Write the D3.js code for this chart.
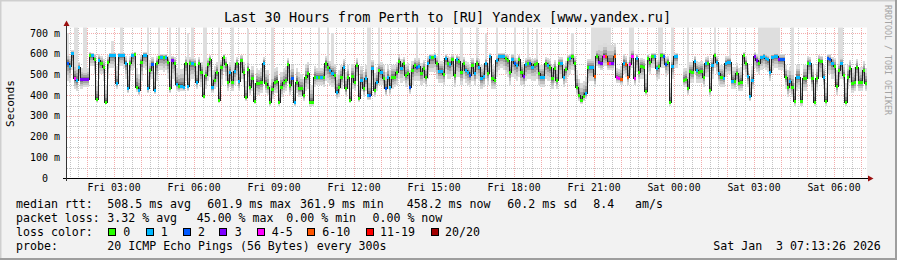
<!DOCTYPE html>
<html><head><meta charset="utf-8">
<script src="https://cdn.jsdelivr.net/npm/d3@7"></script>
<style>
html,body{margin:0;padding:0;background:#f2f2f2;overflow:hidden;}
svg{display:block;}
text{font-family:"DejaVu Sans Mono",monospace;white-space:pre;fill:#000;}
</style></head><body>
<svg id="chart" width="897" height="260"></svg>
<script>
// ---------------- data ----------------
const medianRtt = [
557,541,602,484,473,537,476,476,476,476,
594,594,573,381,570,557,537,368,562,594,
594,594,457,594,594,594,557,433,554,594,
599,441,425,559,596,596,433,521,550,425,
554,583,586,583,586,562,433,568,554,454,
444,446,441,554,444,557,554,549,465,554,
513,396,497,549,573,441,473,513,377,537,
586,550,465,513,462,518,554,468,570,513,
390,525,441,481,372,460,457,465,557,457,
441,365,428,465,470,368,441,462,473,549,
449,481,365,465,433,433,401,489,505,368,
368,489,489,489,489,489,554,537,521,508,
497,417,441,
489,537,433,489,377,492,465,546,388,473,
433,481,401,401,529,425,465,521,513,481,
433,489,441,489,489,513,566,533,554,497,
505,441,521,546,537,542,505,533,489,557,
586,583,589,557,518,518,501,581,557,550,
573,497,573,566,513,554,521,510,497,546,
505,557,537,484,492,554,508,589,481,473,
570,591,591,591,578,570,513,575,557,546,
573,513,492,549,554,554,537,549,554,505,
489,489,554,546,534,481,533,473,554,554,
489,525,573,581,591,557,441,401,377,396,
409,537,537,537,492,589,562,557,591,589,
557,557,557,591,486,481,
476,557,549,489,549,591,481,578,513,541,
537,422,578,562,591,591,529,541,594,591,
549,562,368,541,589,591,null,null,473,478,
433,517,513,566,521,513,518,489,554,557,
425,546,594,562,505,489,481,557,562,562,
470,468,505,460,465,594,557,492,396,473,
589,570,557,583,591,578,573,513,586,591,
591,575,575,575,489,441,468,441,372,489,
489,372,484,481,557,554,481,368,481,570,
566,489,372,578,575,554,541,446,521,554,
497,368,489,529,457,465,537,462,465,521,
460];

// lost pings per step (index into lossColors buckets)
const lossBucket = [
2,1,1,4,1,1,3,3,3,3,
0,1,0,0,1,0,0,0,0,1,
1,1,1,1,1,1,1,1,0,1,
0,0,1,0,1,1,1,0,2,1,
0,0,1,0,1,0,0,3,0,1,
0,1,1,0,1,0,1,0,1,0,
0,0,0,0,0,1,0,0,0,0,
0,0,0,1,0,1,0,1,0,0,
0,0,0,0,0,0,0,0,1,0,
0,0,0,0,0,0,0,0,0,0,
0,2,1,0,0,0,0,0,0,0,
0,0,1,0,1,0,0,0,1,1,
0,1,0,
0,1,0,0,0,0,0,0,0,1,
0,1,1,2,1,0,1,0,1,0,
2,1,1,0,0,0,0,1,0,0,
0,2,0,0,2,1,0,0,0,1,
1,0,1,0,1,1,0,1,0,1,
0,0,1,0,0,0,1,1,2,0,
1,0,1,1,1,1,0,1,0,0,
1,1,1,1,0,0,0,1,2,1,
0,0,3,1,0,2,1,0,0,0,
1,1,0,1,0,0,0,0,0,1,
1,0,0,1,0,0,0,0,0,0,
1,0,1,1,5,0,3,3,4,5,
5,4,3,5,4,4,
5,1,5,5,4,4,4,1,0,0,
0,0,0,0,0,1,1,0,0,2,
2,0,0,1,1,1,0,0,0,0,
0,0,0,1,1,0,0,0,1,0,
0,1,0,1,1,0,1,1,1,1,
1,0,0,0,0,0,0,1,1,1,
3,3,0,1,1,1,1,1,1,1,
1,3,2,2,0,0,1,0,0,1,
1,0,0,0,0,1,0,0,0,0,
0,1,0,2,2,1,0,0,0,1,
0,0,0,0,0,0,0,0,0,0,
0];

const smokeLo = [
470,460,520,430,420,470,430,440,440,440,
540,540,500,360,480,500,470,355,480,530,
530,520,430,520,540,530,480,410,470,520,
530,415,400,470,530,520,410,450,480,405,
470,520,520,510,520,480,410,480,470,420,
415,420,420,470,420,470,480,470,430,470,
440,380,430,470,490,410,430,440,360,450,
510,470,420,440,420,450,470,420,480,440,
370,440,400,420,355,400,400,410,460,410,
400,350,380,410,410,350,390,410,420,460,
400,420,350,410,390,390,370,420,430,350,
350,440,450,450,450,440,470,460,450,440,
430,380,390,
430,460,390,430,360,430,420,470,365,420,
390,420,375,375,450,390,420,450,450,430,
395,430,400,430,440,450,480,460,470,440,
450,405,450,470,470,470,450,460,440,480,
510,510,510,480,460,460,450,500,480,480,
490,440,490,490,450,480,460,450,440,470,
450,480,470,430,440,480,450,510,430,430,
490,520,530,520,500,490,450,490,480,470,
490,450,440,470,480,480,470,470,480,450,
440,440,480,470,470,430,460,430,480,480,
440,460,490,500,520,470,400,370,355,370,
380,460,470,470,440,540,530,520,540,540,
520,520,520,540,460,460,
450,500,490,450,490,530,450,510,460,480,
480,400,510,500,530,530,470,480,530,530,
490,500,350,480,530,530,null,null,440,440,
400,460,460,500,460,460,460,440,490,490,
390,480,530,500,450,440,440,490,500,500,
430,430,450,420,420,520,490,440,370,430,
530,510,500,520,530,520,510,470,520,530,
530,520,520,510,430,390,410,390,350,420,
430,350,420,420,480,480,420,350,420,490,
490,430,350,500,500,480,470,400,450,480,
440,350,430,460,410,420,470,420,420,460,
420];

const smokeHi = [
600,590,620,560,545,560,530,520,520,530,
610,605,600,470,600,590,575,450,595,605,
605,605,540,605,605,605,590,520,590,605,
610,530,500,595,610,610,520,570,585,510,
590,600,600,600,600,590,520,590,585,530,
520,525,530,585,530,585,580,580,540,585,
560,480,550,580,595,520,540,560,460,570,
600,585,540,560,530,560,585,540,595,560,
470,565,520,540,460,530,520,530,585,520,
520,450,500,530,535,450,510,530,540,580,
520,545,450,530,510,500,480,550,560,450,
450,540,530,530,530,540,590,575,565,555,
550,500,520,
545,575,510,545,460,550,535,580,470,540,
510,545,480,480,570,505,535,565,560,545,
510,545,520,545,545,560,595,575,585,550,
555,520,565,580,575,580,555,570,545,590,
600,600,605,590,565,565,555,600,590,585,
595,550,595,590,560,585,565,560,550,580,
555,590,575,545,550,585,555,605,545,540,
595,605,605,605,600,595,560,600,590,580,
595,560,550,580,585,585,575,580,585,555,
545,545,585,580,575,545,570,540,585,585,
545,565,595,600,605,590,520,480,460,470,
490,575,575,575,560,620,640,640,650,650,
640,640,640,650,530,525,
540,600,590,560,600,620,560,600,570,580,
575,500,600,590,605,605,570,580,610,605,
585,590,460,580,605,605,null,null,530,530,
510,560,560,590,565,560,565,545,585,590,
505,580,610,590,555,545,540,590,590,590,
535,535,555,530,535,610,590,550,480,540,
610,600,590,600,605,600,595,560,600,605,
605,600,600,600,545,520,535,520,460,545,
545,460,545,545,590,585,545,460,545,595,
590,545,460,600,600,585,580,520,565,585,
550,460,545,570,530,535,575,530,535,565,
530];

// tall outlier smoke (step index, highest ping in ms)
const spikeSteps = [0,3,4,7,8,20,24,36,41,46,50,54,56,61,62,68,74,81,92,113,117,119,135,136,140,157,167,177,184,188,193,201,207,211,227,236,237,238,239,240,241,242,243,244,253,254,266,267,272,279,291,298,311,312,313,314,315,316,317,318,319,320,326,347,348];
const spikeTops  = [700,760,760,760,760,660,760,760,760,760,760,700,760,760,760,760,760,720,760,760,760,700,760,760,760,760,760,760,760,700,760,760,760,720,700,760,760,760,760,760,760,760,760,760,760,760,760,760,760,760,760,760,760,760,760,760,760,760,760,760,760,760,760,760,760];

const yTicks = [0,100,200,300,400,500,600,700];
const lossLabels = ["0","1","2","3","4-5","6-10","11-19","20/20"];
const lossColors = ["#26ff00","#00b8ff","#0059ff","#7e00ff","#ff00ff","#ff5500","#ff0000","#a10000"];
const rttStats = [508.5, 601.9, 361.9, 458.2];   // avg max min now (ms)
const rttSd = 60.2, rttAms = 8.4;
const lossStats = [3.32, 45.00, 0.00, 0.00];     // avg max min now (%)
const probeText = "20 ICMP Echo Pings (56 Bytes) every 300s";
const titleText = "Last 30 Hours from Perth to [RU] Yandex [www.yandex.ru]";
const stampText = "Sat Jan  3 07:13:26 2026";

// ---------------- layout ----------------
const svg = d3.select("#chart");
const W = 897, H = 260;
const X0 = 67, X1 = 867, YTOP = 27.5, YBOT = 178;
const stepMs = 300 * 1000;
const tStart = new Date(2026, 0, 2, 1, 14, 15);
const tEnd = new Date(tStart.getTime() + 30 * 3600 * 1000);
const x = d3.scaleTime().domain([tStart, tEnd]).range([X0, X1]);
const y = d3.scaleLinear().domain([0, 700]).range([YBOT, 33]);
const tAt = i => new Date(tStart.getTime() + i * stepMs);

// background & 3D border
svg.append("rect").attr("width", W).attr("height", H).attr("fill", "#f2f2f2");
svg.append("path").attr("d", `M0.5,${H}V0.5H${W}`).attr("stroke", "#cfcfcf").attr("stroke-width", 2).attr("fill", "none");
svg.append("path").attr("d", `M${W-1},0V${H-1}H0`).attr("stroke", "#9e9e9e").attr("stroke-width", 2).attr("fill", "none");

// canvas
svg.append("rect").attr("x", X0).attr("y", YTOP).attr("width", X1 - X0).attr("height", YBOT - YTOP).attr("fill", "#fff");
svg.append("clipPath").attr("id", "cv").append("rect").attr("x", X0).attr("y", YTOP).attr("width", X1 - X0).attr("height", YBOT - YTOP);

// grid
const grid = svg.append("g").attr("shape-rendering", "crispEdges");
x.ticks(d3.timeMinute.every(20)).forEach(t => {
  if (t.getMinutes() === 0) return;
  const xx = Math.round(x(t)) + 0.5;
  grid.append("line").attr("x1", xx).attr("x2", xx).attr("y1", YTOP).attr("y2", YBOT)
    .attr("stroke", "#c4c4c4").attr("stroke-dasharray", "1,1");
});
for (let v = 50; v <= 700; v += 100) {
  const yy = Math.round(y(v)) + 0.5;
  grid.append("line").attr("x1", X0).attr("x2", X1).attr("y1", yy).attr("y2", yy)
    .attr("stroke", "#c4c4c4").attr("stroke-dasharray", "1,1");
}
x.ticks(d3.timeHour.every(1)).forEach(t => {
  const xx = Math.round(x(t)) + 0.5;
  grid.append("line").attr("x1", xx).attr("x2", xx).attr("y1", YTOP).attr("y2", YBOT)
    .attr("stroke", "#f3acac").attr("stroke-dasharray", "1,1");
});
yTicks.filter(v => v > 0).forEach(v => {
  const yy = Math.round(y(v)) + 0.5;
  grid.append("line").attr("x1", X0).attr("x2", X1).attr("y1", yy).attr("y2", yy)
    .attr("stroke", "#f3acac").attr("stroke-dasharray", "1,1");
});

// data layer
const data = medianRtt.map((m, i) => ({
  i, m, lo: smokeLo[i], hi: smokeHi[i], loss: lossBucket[i],
  x0: x(tAt(i)), x1: x(tAt(i + 1))
}));
const plot = svg.append("g").attr("clip-path", "url(#cv)").attr("shape-rendering", "crispEdges");

// outlier smoke
plot.append("g").selectAll("rect").data(spikeSteps.map((s, k) => ({ d: data[s], top: spikeTops[k] })))
  .join("rect")
  .attr("x", o => o.d.x0).attr("width", o => o.d.x1 - o.d.x0)
  .attr("y", o => y(o.top)).attr("height", o => y(o.d.lo != null ? o.d.lo : 500) - y(o.top))
  .attr("fill", "#dedede");

// graded smoke
const shades = [[1.0, "#dadada"], [0.7, "#c2c2c2"], [0.45, "#a2a2a2"], [0.25, "#7e7e7e"], [0.1, "#585858"]];
shades.forEach(([f, col]) => {
  plot.append("g").selectAll("rect").data(data.filter(d => d.m != null && d.lo != null))
    .join("rect")
    .attr("x", d => d.x0).attr("width", d => d.x1 - d.x0)
    .attr("y", d => y(d.m + f * (d.hi - d.m)))
    .attr("height", d => y(d.m - f * (d.m - d.lo)) - y(d.m + f * (d.hi - d.m)))
    .attr("fill", col);
});

// median staircase line
const pts = [];
data.forEach((d, i) => {
  if (d.m == null) { pts.push(null); return; }
  const yy = Math.round(y(d.m)) + 0.5;
  pts.push([d.x0, yy]); pts.push([d.x1, yy]);
});
const line = d3.line().defined(p => p != null).x(p => p[0]).y(p => p[1]);
plot.append("path").attr("d", line(pts)).attr("fill", "none").attr("stroke", "#202020").attr("stroke-width", 1);

// loss-coloured median marks
plot.append("g").selectAll("rect").data(data.filter(d => d.m != null))
  .join("rect")
  .attr("x", d => d.x0).attr("width", d => d.x1 - d.x0)
  .attr("y", d => Math.round(y(d.m)) - 1).attr("height", 3)
  .attr("fill", d => lossColors[d.loss]);

// axes
svg.append("line").attr("x1", 63).attr("x2", 868).attr("y1", YBOT + 0.5).attr("y2", YBOT + 0.5)
  .attr("stroke", "#000").attr("shape-rendering", "crispEdges");
svg.append("line").attr("x1", 66.5).attr("x2", 66.5).attr("y1", 25).attr("y2", YBOT + 3)
  .attr("stroke", "#333").attr("shape-rendering", "crispEdges");
svg.append("path").attr("d", "M868,175.5L873.5,178.5L868,181.5Z").attr("fill", "#9b1010");
svg.append("path").attr("d", "M63.5,26L66.5,20.5L69.5,26Z").attr("fill", "#9b1010");

// x labels
const fmt = d3.timeFormat("%a %H:%M");
svg.append("g").selectAll("text").data(x.ticks(d3.timeHour.every(3)))
  .join("text")
  .attr("x", d => x(d)).attr("y", 191).attr("text-anchor", "middle")
  .attr("font-size", "9.8px").text(d => fmt(d));

// y labels
svg.append("g").selectAll("text").data(yTicks)
  .join("text")
  .attr("x", v => v === 0 ? 48 : 60).attr("y", v => y(v) + 3.5).attr("text-anchor", "end")
  .attr("font-size", "10px").text(v => v === 0 ? "0" : v + " m");

// y title
svg.append("text").attr("transform", "translate(14,103.5) rotate(-90)").attr("text-anchor", "middle")
  .attr("font-size", "11.2px").text("Seconds");

// title
svg.append("text").attr("x", 447.5).attr("y", 22).attr("text-anchor", "middle")
  .attr("font-size", "13.5px").text(titleText);

// watermark
svg.append("text").attr("transform", "translate(885,5) rotate(90)").attr("font-size", "8.3px")
  .style("fill", "#a4a4a4").text("RRDTOOL / TOBI OETIKER");

// legend
const FS = "11.6px";
const addT = (xx, yy, s) => svg.append("text").attr("x", xx).attr("y", yy).attr("font-size", FS).text(s);
addT(16, 208, "median rtt:");
addT(107.3, 208, rttStats[0].toFixed(1) + " ms avg");
addT(207.3, 208, rttStats[1].toFixed(1) + " ms max");
addT(300, 208, rttStats[2].toFixed(1) + " ms min");
addT(406.7, 208, rttStats[3].toFixed(1) + " ms now");
addT(507.3, 208, rttSd.toFixed(1) + " ms sd");
addT(593.3, 208, rttAms.toFixed(1));
addT(635, 208, "am/s");

addT(16, 222, "packet loss:");
addT(107.3, 222, lossStats[0].toFixed(2) + " % avg");
addT(196.7, 222, lossStats[1].toFixed(2) + " % max");
addT(286.3, 222, lossStats[2].toFixed(2) + " % min");
addT(372.5, 222, lossStats[3].toFixed(2) + " % now");

addT(16, 236, "loss color:");
const swX = [108.3, 145.7, 182.7, 219.3, 256.7, 307.3, 365.7, 430.7];
const lbX = [123.3, 160.7, 198, 234.7, 271.7, 322.3, 380, 445];
lossLabels.forEach((lab, k) => {
  svg.append("rect").attr("x", Math.round(swX[k]) + 0.5).attr("y", 228.5).attr("width", 7).attr("height", 7)
    .attr("fill", lossColors[k]).attr("stroke", "#000").attr("stroke-width", 1).attr("shape-rendering", "crispEdges");
  addT(lbX[k], 236, lab);
});

addT(16, 250, "probe:");
addT(107.3, 250, probeText);
addT(713.3, 250, stampText);
</script>
</body></html>
